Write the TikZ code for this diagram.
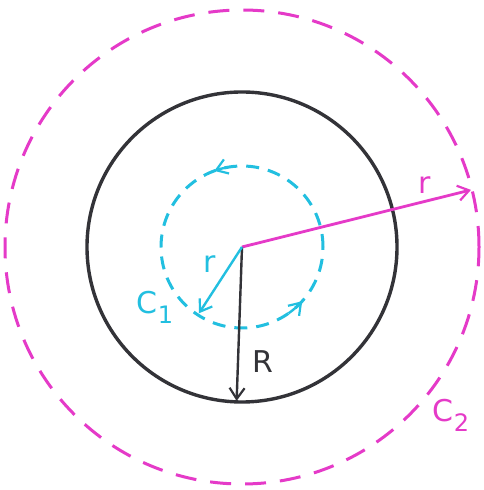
\documentclass[tikz,border=0pt]{standalone}
\usepackage{fontspec}
\setsansfont{DejaVu Sans}
\usetikzlibrary{arrows.meta}
\definecolor{mag}{HTML}{E53AC8}
\definecolor{cy}{HTML}{22BFE0}
\definecolor{blk}{HTML}{333338}
\newcommand{\lowsub}[1]{\raisebox{-0.6ex}{\fontsize{24}{24}\selectfont #1}}
\begin{document}
\begin{tikzpicture}[x=1pt,y=1pt,
  tipa/.style={-{Straight Barb[length=11pt,width=15pt,line width=2.2pt]}},
  lbl/.style={font=\sffamily\fontsize{30}{30}\selectfont, inner sep=0pt}]
\useasboundingbox[fill=white] (0,0) rectangle (483,490);
\coordinate (O) at (242,243);
% circles
\draw[blk, line width=3.4pt] (O) circle (155);
\draw[mag, line width=3pt, dash pattern=on 21pt off 14pt] (O) circle (237);
\draw[cy, line width=3pt, dash pattern=on 13pt off 9pt] (O) circle (81);
% direction chevrons on C1
\draw[cy, line width=2.4pt, tipa] (O) ++(100:81) arc (100:110:81);
\draw[cy, line width=2.4pt, tipa] (O) ++(305:81) arc (305:318:81);
% radii
\path (O) ++(14:236) coordinate (Pm);
\path (O) ++(268:154) coordinate (Pb);
\path (O) ++(237:79) coordinate (Pc);
\draw[mag, line width=2.8pt, tipa] (O) -- (Pm);
\draw[blk, line width=2.4pt, tipa] (O) -- (Pb);
\draw[cy, line width=2.4pt, tipa] (O) -- (Pc);
% labels
\node[lbl, text=mag] (lr2) at (425,305) {r};
\node[lbl, text=cy] (lr1) at (210,226) {r};
\node[lbl, text=cy] (lc1) at (155,183) {C\lowsub{1}};
\node[lbl, text=blk] (lR) at (263,128) {R};
\node[lbl, text=mag] (lc2) at (451,75) {C\lowsub{2}};
\end{tikzpicture}
\end{document}
